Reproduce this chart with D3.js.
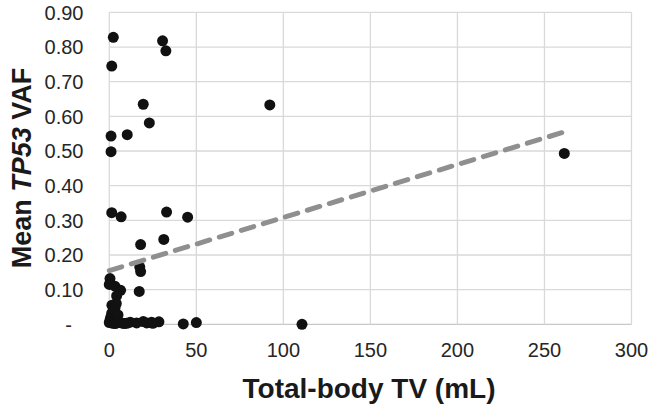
<!DOCTYPE html>
<html><head><meta charset="utf-8">
<script src="https://cdn.jsdelivr.net/npm/d3@7"></script>
<style>body{margin:0;background:#fff}svg{display:block}text{font-family:"Liberation Sans",Arial,sans-serif}</style>
</head><body>
<script>
// Data
const tvValues = [2.3,30.6,32.5,1.4,19.5,92.2,23,10.3,1,1,261.4,1.4,32.9,6.8,45,31.3,18,17.5,18,0.4,0,3.2,17.2,6.5,4.2,3.3,2.5,1.4,0.8,0.4,5,0,2,3.5,5.5,7,8.5,10,15.7,19.5,21.5,24.3,28.5,25,42.5,50,110.7,1.5,4,12];
const vafValues = [0.828,0.818,0.789,0.745,0.635,0.633,0.581,0.547,0.543,0.498,0.493,0.322,0.324,0.31,0.309,0.245,0.23,0.165,0.152,0.132,0.115,0.11,0.095,0.098,0.082,0.048,0.04,0.032,0.02,0.012,0.027,0.005,0.003,0.002,0.005,0.004,0.002,0.003,0.004,0.008,0.004,0.006,0.007,0.003,0.001,0.005,0,0.055,0.06,0.006];
const xTicks = [0,50,100,150,200,250,300];
const yTicks = [0,0.1,0.2,0.3,0.4,0.5,0.6,0.7,0.8,0.9];
const yTickLabels = ["-","0.10","0.20","0.30","0.40","0.50","0.60","0.70","0.80","0.90"];
const trendX = [0, 262];
const trendY = [0.155, 0.556];

const W=650,H=405;
const svg=d3.select("body").append("svg").attr("width",W).attr("height",H);
const x=d3.scaleLinear().domain([0,300]).range([109.3,631.5]);
const y=d3.scaleLinear().domain([0,0.9]).range([324.3,12.4]);

// gridlines
svg.append("g").selectAll("line").data(yTicks).join("line")
  .attr("x1",x(0)).attr("x2",x(300)).attr("y1",d=>y(d)).attr("y2",d=>y(d))
  .attr("stroke",d=>d===0?"#c8c8c8":"#d9d9d9").attr("stroke-width",1.3);
svg.append("g").selectAll("line").data(xTicks).join("line")
  .attr("y1",y(0)).attr("y2",y(0.9)).attr("x1",d=>x(d)).attr("x2",d=>x(d))
  .attr("stroke","#d9d9d9").attr("stroke-width",1.3);

// tick labels
svg.append("g").selectAll("text").data(yTicks).join("text")
  .attr("x",(d,i)=>i===0?72:83.5).attr("y",d=>y(d)).attr("dy","0.36em")
  .attr("text-anchor","end").attr("font-size",20).attr("fill","#262626")
  .text((d,i)=>yTickLabels[i]);
svg.append("g").selectAll("text").data(xTicks).join("text")
  .attr("x",d=>x(d)).attr("y",357).attr("text-anchor","middle")
  .attr("font-size",20).attr("fill","#262626").text(d=>d);

// points
const pts=tvValues.map((v,i)=>[v,vafValues[i]]);
svg.append("g").selectAll("circle").data(pts).join("circle")
  .attr("cx",d=>x(d[0])).attr("cy",d=>y(d[1])).attr("r",5.5).attr("fill","#111");

// trend line
svg.append("line").attr("x1",x(trendX[0])).attr("y1",y(trendY[0]))
  .attr("x2",x(trendX[1])).attr("y2",y(trendY[1]))
  .attr("stroke","#8f8f8f").attr("stroke-width",5).attr("stroke-linecap","round")
  .attr("stroke-dasharray","13,10");

// axis titles
svg.append("text").attr("x",369).attr("y",398).attr("text-anchor","middle")
  .attr("font-size",28).attr("font-weight","bold").attr("fill","#1a1a1a").text("Total-body TV (mL)");
const yt=svg.append("text").attr("transform","translate(31,168) rotate(-90)").attr("text-anchor","middle")
  .attr("font-size",27).attr("font-weight","bold").attr("fill","#1a1a1a");
yt.append("tspan").text("Mean ");
yt.append("tspan").attr("font-style","italic").text("TP53");
yt.append("tspan").text(" VAF");
</script>
</body></html>
